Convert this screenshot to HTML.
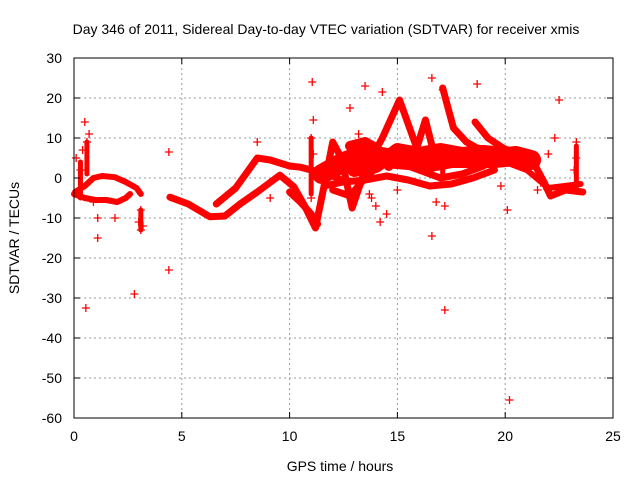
<!DOCTYPE html>
<html><head><meta charset="utf-8"><style>
body{margin:0;background:#fff}
svg{display:block;font-family:"Liberation Sans",sans-serif}
</style></head><body>
<svg id="chart" width="640" height="480" viewBox="0 0 640 480">
<rect width="640" height="480" fill="#fff"/>
<text x="326" y="34" font-size="14" text-anchor="middle">Day 346 of 2011, Sidereal Day-to-day VTEC variation (SDTVAR) for receiver xmis</text>
<text x="340" y="471" font-size="14" text-anchor="middle">GPS time / hours</text>
<text transform="translate(19,238) rotate(-90)" font-size="14" text-anchor="middle">SDTVAR / TECUs</text>
<g id="grid"></g><g id="marks"></g><g id="axes"></g>
</svg>
<script>
const xTicks=[0,5,10,15,20,25];
const yTicks=[30,20,10,0,-10,-20,-30,-40,-50,-60];
// traces: [hours, TECU] pairs
const traceEarlyUpper=[[0.05,-3.5],[0.5,-2],[0.9,0],[1.3,0.5],[1.9,0.2],[2.4,-1],[2.9,-2.5],[3.1,-4]];
const traceEarlyLower=[[0,-4],[0.5,-5],[1.0,-5.5],[1.5,-5.5],[2.0,-6],[2.4,-5],[2.6,-4]];
const traceMorning=[[4.45,-4.8],[5.3,-6.5],[6.3,-9.7],[7.0,-9.5],[7.7,-6.5],[8.5,-3.5],[9.0,-1.5],[9.55,0.7],[10.2,-2.2],[10.7,-7],[11.2,-12.5],[11.6,-2],[12.0,9],[12.4,5],[12.9,-7.5],[13.5,2],[14.3,10],[15.1,19.5],[15.6,12],[15.9,7.5],[16.3,14.5],[16.7,6],[17.2,3]];
const traceRise=[[6.6,-6.5],[7.5,-2.5],[8.5,5],[9.1,4.5],[10.0,3],[10.5,2.7],[11.0,2],[11.8,1],[12.6,-1]];
const traceDrop=[[10.0,-3.5],[10.5,-6],[11.0,-9],[11.3,-11.5]];
const traceCore=[[11.5,1],[12.5,4],[13.5,6],[14.5,5],[15.5,4.5],[16.5,4],[17.5,5],[18.5,5],[19.5,5],[20.5,5.5],[21.2,4.5]];
const traceLow=[[11.6,-2],[12.5,-1],[13.5,-0.5],[14.5,0.5],[15.5,-0.5],[16.5,-2],[17.5,-1.5],[18.5,0],[19.5,2]];
const traceLate1=[[17.1,22.5],[17.6,12.5],[18.2,9],[18.7,7.5],[19.8,6.5],[20.8,6]];
const traceLate2=[[18.6,14],[19.2,10],[19.9,7.5],[20.5,6]];
const traceTail=[[20.5,5],[21.3,4],[21.8,-1],[22.1,-4.5],[22.8,-3],[23.6,-3.5]];
const traceTail2=[[20.0,4],[21.0,2],[22.0,-2.5],[23.5,-1.5]];
const traceUpper2=[[12.8,8],[13.5,9],[14.0,7.5],[14.6,3]];
const traceMid=[[12.0,-3],[12.8,-4.5],[13.5,0],[14.5,5],[16.0,2],[17.0,0],[18.0,1],[19.0,3]];
const traceCore2=[[13.0,2],[14.0,3],[15.0,7],[16.0,6],[17.0,7],[18.0,6],[19.0,6.5],[20.0,6]];
const clusterA=[[0.3,-5],[0.3,4]];
const clusterB=[[0.6,1],[0.6,9]];
const clusterC=[[3.1,-8],[3.1,-13]];
const clusterD=[[11.0,-4],[11.0,10]];
const clusterE=[[23.3,-3],[23.3,8]];
const clusterF=[[17.1,0],[17.1,8]];
const traces=[traceEarlyUpper,traceEarlyLower,traceMorning,traceRise,traceDrop,traceCore,traceLow,traceLate1,traceLate2,traceTail,traceTail2,traceUpper2,traceMid,traceCore2,clusterA,clusterB,clusterC,clusterD,clusterE,clusterF];
const traceWidths=[6,6,7,7,7,20,7,7,7,7,6,10,7,14,5,5,5,5,5,5];
// scattered points
const ptsT=[0.55,2.8,4.4,4.4,11.05,16.6,17.2,18.7,20.2,22.5,16.6,1.1,14.3,13.5,12.8,22.3,11.1,14.2,17.1,0.5,13.2,20.1,1.9,3.1,0.1,0.6,0.7,0.4,0.3,3.1,3.0,11.0,11.0,11.1,23.3,23.3,23.2,22.0,13.8,14.5,15.0,16.8,21.8,0.2,1.1,0.9,3.2,8.5,9.1,14.0,13.7,17.2,19.8,21.5];
const ptsV=[-32.5,-29,-23,6.5,24,25,-33,23.5,-55.5,19.5,-14.5,-15,21.5,23,17.5,10,14.5,-11,22,14,11,-8,-10,-13,5,9,11,7,2,-8,-11,-5,10,6,9,5,2,6,-5,-9,-3,-6,-2,-4,-10,-6,-12,9,-5,-7,-4,-7,-2,-3];
const X=t=>74+t*(539/25), Y=v=>178-v*4;
const NS='http://www.w3.org/2000/svg';
const grid=document.getElementById('grid'),marks=document.getElementById('marks'),axes=document.getElementById('axes');
function mk(tag,attrs,parent){const e=document.createElementNS(NS,tag);for(const k in attrs)e.setAttribute(k,attrs[k]);parent.appendChild(e);return e;}
xTicks.forEach(t=>{
 if(t>0&&t<25){const l=mk('line',{x1:X(t),x2:X(t),y1:58,y2:418,stroke:'#999','stroke-dasharray':'2,3'},grid);
 
 }
 const tx=mk('text',{x:X(t),y:441,'font-size':14,'text-anchor':'middle'},axes);tx.textContent=t;
 
 
 mk('line',{x1:X(t),x2:X(t),y1:418,y2:412,stroke:'#000'},axes);mk('line',{x1:X(t),x2:X(t),y1:58,y2:64,stroke:'#000'},axes);
});
yTicks.forEach(v=>{
 if(v<30&&v>-60){const l=mk('line',{x1:74,x2:613,y1:Y(v),y2:Y(v),stroke:'#999','stroke-dasharray':'2,3'},grid);
 
 }
 const tx=mk('text',{x:62,y:Y(v)+5,'font-size':14,'text-anchor':'end'},axes);tx.textContent=v;
 
 
 mk('line',{x1:74,x2:80,y1:Y(v),y2:Y(v),stroke:'#000'},axes);mk('line',{x1:607,x2:613,y1:Y(v),y2:Y(v),stroke:'#000'},axes);
});
const frame=mk('rect',{x:74,y:58,width:539,height:360,fill:'none',stroke:'#000'},axes);


traces.forEach((tr,i)=>{
 const p=mk('polyline',{points:tr.map(d=>X(d[0])+','+Y(d[1])).join(' '),fill:'none',stroke:'#f00','stroke-width':traceWidths[i],'stroke-linejoin':'round','stroke-linecap':'round'},marks);
 
 
});
ptsT.forEach((t,i)=>{
 const x=X(t),y=Y(ptsV[i]);
 const p=mk('path',{d:`M${x-4},${y}h8M${x},${y-4}v8`,stroke:'#f00','stroke-width':1.3},marks);
 
 
});
</script>
</body></html>
